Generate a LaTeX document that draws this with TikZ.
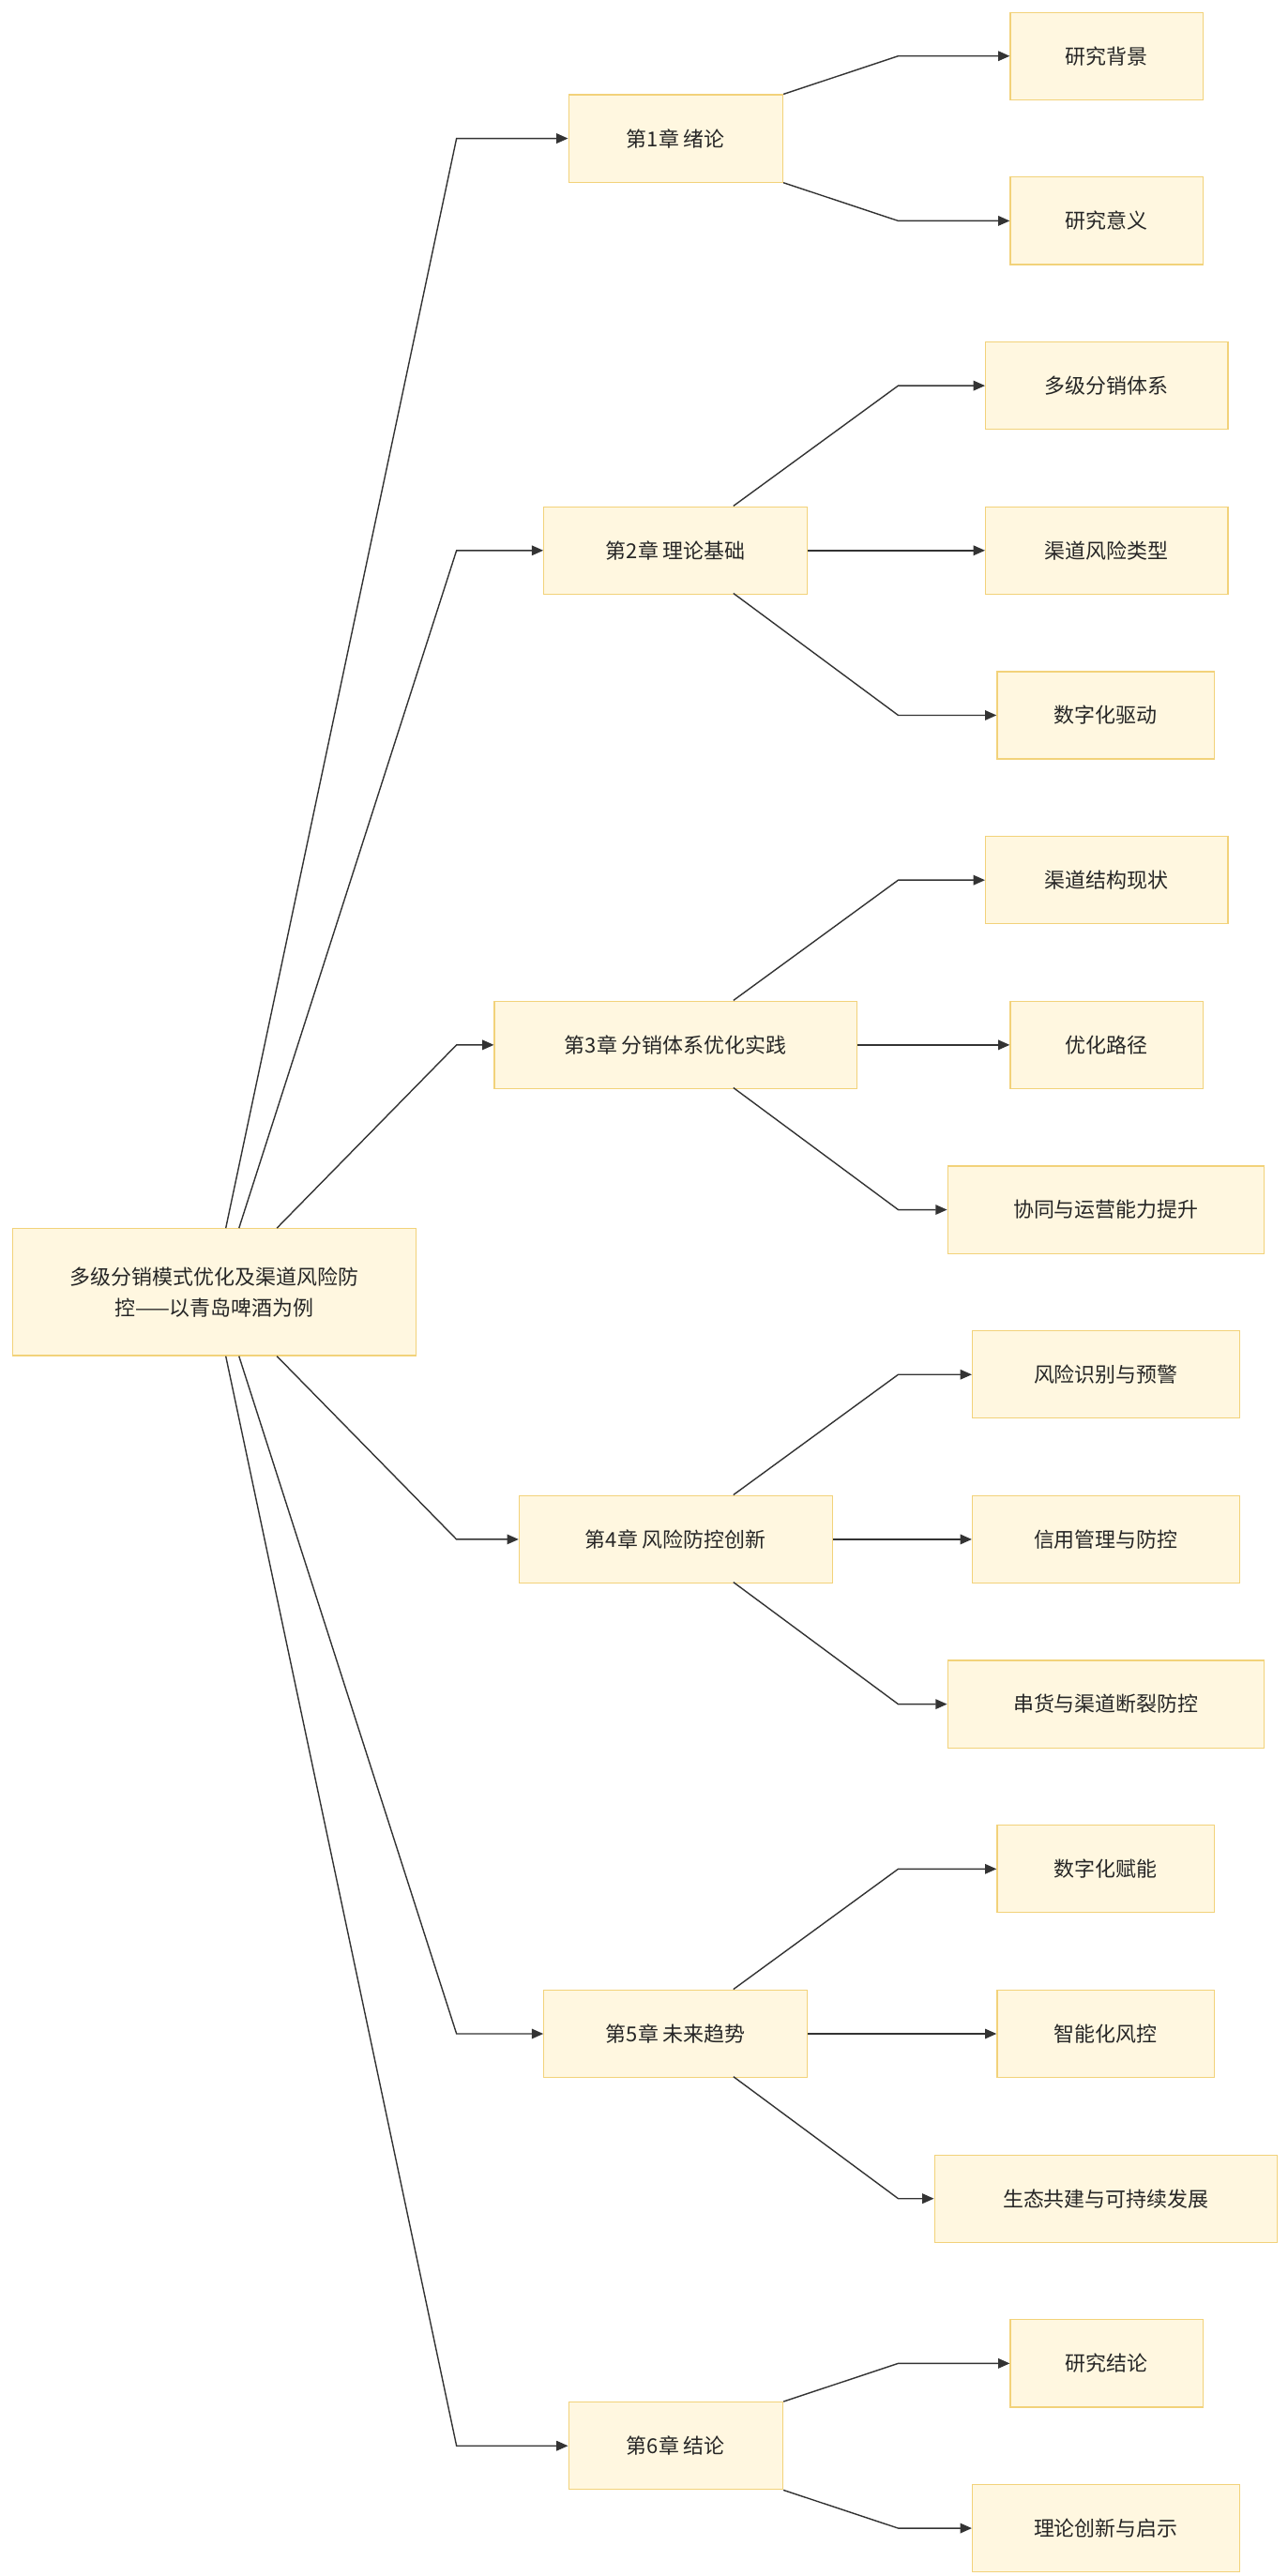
\documentclass[tikz,border=0pt]{standalone}
\usepackage{fontspec}
\setmainfont{Noto Sans CJK SC}
\usetikzlibrary{arrows.meta}
\definecolor{boxfill}{HTML}{FFF7E0}
\definecolor{boxline}{HTML}{F2D27A}
\definecolor{edge}{HTML}{333333}
\begin{document}
\begin{tikzpicture}[x=1pt,y=-1pt,
  box/.style={draw=boxline,fill=boxfill,line width=0.7pt,font=\fontsize{12.5}{19}\selectfont,text=black!85,align=center,inner sep=0pt},
  arr/.style={draw=edge,line width=0.8pt,-{Triangle[length=7pt,width=6pt]}}]
\path[use as bounding box,fill=white] (0,0) rectangle (781,1563);
\newcommand{\bx}[6]{\node[box,minimum width=#4-#3,minimum height=53] (#1) at ({(#3+#4)/2},#5) {#6};}
\node[box,minimum width=245,minimum height=77] (root) at (130,784) {多级分销模式优化及渠道风险防\\控——以青岛啤酒为例};
\bx{c1}{}{345}{475}{84}{第1章 绪论}
\bx{c2}{}{330}{490}{334}{第2章 理论基础}
\bx{c3}{}{300}{520}{634}{第3章 分销体系优化实践}
\bx{c4}{}{315}{505}{934}{第4章 风险防控创新}
\bx{c5}{}{330}{490}{1234}{第5章 未来趋势}
\bx{c6}{}{345}{475}{1484}{第6章 结论}
\bx{l1}{}{613}{730}{34}{研究背景}
\bx{l2}{}{613}{730}{134}{研究意义}
\bx{l3}{}{598}{745}{234}{多级分销体系}
\bx{l4}{}{598}{745}{334}{渠道风险类型}
\bx{l5}{}{605}{737}{434}{数字化驱动}
\bx{l6}{}{598}{745}{534}{渠道结构现状}
\bx{l7}{}{613}{730}{634}{优化路径}
\bx{l8}{}{575}{767}{734}{协同与运营能力提升}
\bx{l9}{}{590}{752}{834}{风险识别与预警}
\bx{l10}{}{590}{752}{934}{信用管理与防控}
\bx{l11}{}{575}{767}{1034}{串货与渠道断裂防控}
\bx{l12}{}{605}{737}{1134}{数字化赋能}
\bx{l13}{}{605}{737}{1234}{智能化风控}
\bx{l14}{}{567}{775}{1334}{生态共建与可持续发展}
\bx{l15}{}{613}{730}{1434}{研究结论}
\bx{l16}{}{590}{752}{1534}{理论创新与启示}
% root to chapters
\draw[arr] ([xshift=7pt]root.north) -- (277,84) -- (c1.west);
\draw[arr] ([xshift=15pt]root.north) -- (277,334) -- (c2.west);
\draw[arr] ([xshift=38pt]root.north) -- (277,634) -- (c3.west);
\draw[arr] ([xshift=38pt]root.south) -- (277,934) -- (c4.west);
\draw[arr] ([xshift=15pt]root.south) -- (277,1234) -- (c5.west);
\draw[arr] ([xshift=7pt]root.south) -- (277,1484) -- (c6.west);
% chapter to leaves
\draw[arr] (c1.north east) -- (545,34) -- (l1.west);
\draw[arr] (c1.south east) -- (545,134) -- (l2.west);
\draw[arr] (445,307) -- (545,234) -- (l3.west);
\draw[arr] (c2.east) -- (l4.west);
\draw[arr] (445,360) -- (545,434) -- (l5.west);
\draw[arr] (445,607) -- (545,534) -- (l6.west);
\draw[arr] (c3.east) -- (l7.west);
\draw[arr] (445,660) -- (545,734) -- (l8.west);
\draw[arr] (445,907) -- (545,834) -- (l9.west);
\draw[arr] (c4.east) -- (l10.west);
\draw[arr] (445,960) -- (545,1034) -- (l11.west);
\draw[arr] (445,1207) -- (545,1134) -- (l12.west);
\draw[arr] (c5.east) -- (l13.west);
\draw[arr] (445,1260) -- (545,1334) -- (l14.west);
\draw[arr] (c6.north east) -- (545,1434) -- (l15.west);
\draw[arr] (c6.south east) -- (545,1534) -- (l16.west);
\end{tikzpicture}
\end{document}
